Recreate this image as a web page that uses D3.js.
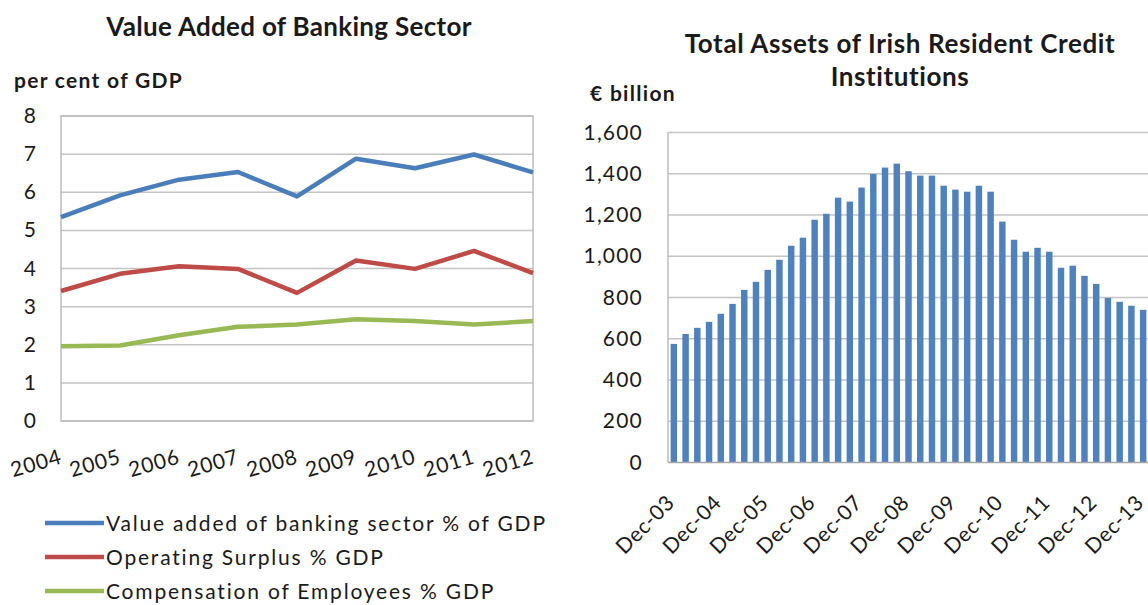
<!DOCTYPE html>
<html>
<head>
<meta charset="utf-8">
<script src="https://cdn.jsdelivr.net/npm/d3@7"></script>
<style>
  body { margin: 0; background: #fff; }
  text { font-family: Lato, "Open Sans", sans-serif; fill: #1a1a1a; }
</style>
</head>
<body>
<svg width="1148" height="605"></svg>
<script>
// Left chart data: banking sector, per cent of GDP
const years = [2004, 2005, 2006, 2007, 2008, 2009, 2010, 2011, 2012];
const valueAdded = [5.35, 5.92, 6.33, 6.53, 5.89, 6.88, 6.63, 6.99, 6.52];
const operatingSurplus = [3.41, 3.86, 4.06, 3.99, 3.36, 4.21, 3.99, 4.46, 3.88];
const compensation = [1.96, 1.98, 2.25, 2.47, 2.53, 2.67, 2.62, 2.53, 2.62];
const seriesNames = [
  "Value added of banking sector % of GDP",
  "Operating Surplus  % GDP",
  "Compensation of Employees % GDP"
];
const leftTicks = [0, 1, 2, 3, 4, 5, 6, 7, 8];

// Right chart data: total assets, € billion, quarterly
const quarters = [
  "Dec-03", "Mar-04", "Jun-04", "Sep-04", "Dec-04", "Mar-05", "Jun-05", "Sep-05",
  "Dec-05", "Mar-06", "Jun-06", "Sep-06", "Dec-06", "Mar-07", "Jun-07", "Sep-07",
  "Dec-07", "Mar-08", "Jun-08", "Sep-08", "Dec-08", "Mar-09", "Jun-09", "Sep-09",
  "Dec-09", "Mar-10", "Jun-10", "Sep-10", "Dec-10", "Mar-11", "Jun-11", "Sep-11",
  "Dec-11", "Mar-12", "Jun-12", "Sep-12", "Dec-12", "Mar-13", "Jun-13", "Sep-13",
  "Dec-13"
];
const totalAssets = [
  575, 623, 653, 682, 721, 769, 837, 876, 934, 983, 1051, 1090, 1177, 1206,
  1284, 1265, 1333, 1399, 1430, 1449, 1412, 1391, 1391, 1342, 1323, 1313,
  1342, 1313, 1168, 1080, 1022, 1041, 1022, 944, 954, 905, 866, 798, 779,
  760, 740
];
const rightTicks = [0, 200, 400, 600, 800, 1000, 1200, 1400, 1600];

const svg = d3.select("svg");
const gridColor = "#c4c4c4";
const colors = ["#4a7ebb", "#be4b48", "#98b954"];

// ---------- left: line chart ----------
const lx = d3.scalePoint().domain(years).range([61, 533]);
const ly = d3.scaleLinear().domain([0, 8]).range([421, 116]);

svg.append("text")
  .attr("x", 289).attr("y", 36)
  .attr("text-anchor", "middle")
  .style("font-size", "26px").style("font-weight", "bold")
  .style("letter-spacing", "0.3px")
  .text("Value Added of Banking Sector");

svg.append("text")
  .attr("x", 14).attr("y", 88)
  .style("font-size", "21px").style("font-weight", "bold")
  .style("letter-spacing", "1.3px")
  .text("per cent of GDP");

// gridlines
svg.append("g").selectAll("line")
  .data(leftTicks)
  .join("line")
  .attr("x1", 61).attr("x2", 533)
  .attr("y1", d => ly(d)).attr("y2", d => ly(d))
  .attr("stroke", gridColor).attr("stroke-width", 1.5);

// plot border
svg.append("rect")
  .attr("x", 61).attr("y", ly(8))
  .attr("width", 533 - 61).attr("height", ly(0) - ly(8))
  .attr("fill", "none").attr("stroke", "#bdbdbd").attr("stroke-width", 1.5);

// y axis labels
svg.append("g").selectAll("text")
  .data(leftTicks)
  .join("text")
  .attr("x", 36).attr("y", d => ly(d) + 7)
  .attr("text-anchor", "end")
  .style("font-size", "21px")
  .text(d => d);

// x axis labels, tilted
svg.append("g").selectAll("text")
  .data(years)
  .join("text")
  .attr("transform", d => `translate(${lx(d) + 2},463) rotate(-16)`)
  .attr("text-anchor", "end")
  .style("font-size", "21px").style("letter-spacing", "0.8px")
  .text(d => d);

const line = d3.line().x((d, i) => lx(years[i])).y(d => ly(d));
[valueAdded, operatingSurplus, compensation].forEach((s, i) => {
  svg.append("path")
    .datum(s)
    .attr("d", line)
    .attr("fill", "none")
    .attr("stroke", colors[i])
    .attr("stroke-width", 4.5)
    .attr("stroke-linejoin", "round");
});

// legend
const legend = svg.append("g").selectAll("g")
  .data(seriesNames)
  .join("g")
  .attr("transform", (d, i) => `translate(0,${523 + i * 34})`);
legend.append("line")
  .attr("x1", 45).attr("x2", 104)
  .attr("stroke", (d, i) => colors[i]).attr("stroke-width", 4.5);
legend.append("text")
  .attr("x", 106).attr("y", 8)
  .style("font-size", "21px").style("letter-spacing", "1.8px")
  .text(d => d);

// ---------- right: bar chart ----------
const rx = d3.scaleBand().domain(quarters).range([668, 1149])
  .paddingInner(0.45).paddingOuter(0.225);
const ry = d3.scaleLinear().domain([0, 1600]).range([462.5, 132.5]);

svg.append("text")
  .attr("x", 900).attr("y", 53)
  .attr("text-anchor", "middle")
  .style("font-size", "26px").style("font-weight", "bold")
  .style("letter-spacing", "0.6px")
  .text("Total Assets of Irish Resident Credit");
svg.append("text")
  .attr("x", 900).attr("y", 86)
  .attr("text-anchor", "middle")
  .style("font-size", "26px").style("font-weight", "bold")
  .style("letter-spacing", "0.6px")
  .text("Institutions");

svg.append("text")
  .attr("x", 590).attr("y", 101)
  .style("font-size", "21px").style("font-weight", "bold")
  .style("letter-spacing", "1.3px")
  .text("€ billion");

svg.append("g").selectAll("line")
  .data(rightTicks.slice(1))
  .join("line")
  .attr("x1", 668).attr("x2", 1148)
  .attr("y1", d => ry(d)).attr("y2", d => ry(d))
  .attr("stroke", gridColor).attr("stroke-width", 1.5);

svg.append("g").selectAll("rect")
  .data(totalAssets)
  .join("rect")
  .attr("x", (d, i) => rx(quarters[i]))
  .attr("width", rx.bandwidth())
  .attr("y", d => ry(d))
  .attr("height", d => ry(0) - ry(d))
  .attr("fill", "#4f81bd");

// axis lines
svg.append("line")
  .attr("x1", 668).attr("x2", 668).attr("y1", ry(1600)).attr("y2", ry(0))
  .attr("stroke", "#bdbdbd").attr("stroke-width", 1.5);
svg.append("line")
  .attr("x1", 668).attr("x2", 1148).attr("y1", ry(0)).attr("y2", ry(0))
  .attr("stroke", "#a6a6a6").attr("stroke-width", 1.5);

svg.append("g").selectAll("text")
  .data(rightTicks)
  .join("text")
  .attr("x", 643).attr("y", d => ry(d) + 7)
  .attr("text-anchor", "end")
  .style("font-size", "21px").style("letter-spacing", "1.2px")
  .text(d => d3.format(",")(d));

svg.append("g").selectAll("text")
  .data(quarters.filter(q => q.startsWith("Dec")))
  .join("text")
  .attr("transform", d => `translate(${rx(d) + rx.bandwidth() / 2 + 2},504) rotate(-45)`)
  .attr("text-anchor", "end")
  .style("font-size", "21px").style("letter-spacing", "0.6px")
  .text(d => d);
</script>
</body>
</html>
